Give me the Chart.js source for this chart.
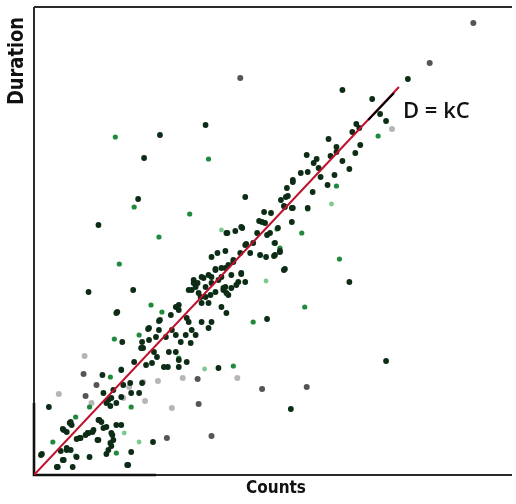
<!DOCTYPE html>
<html>
<head>
<meta charset="utf-8">
<script src="https://cdn.jsdelivr.net/npm/chart.js@4.4.1/dist/chart.umd.min.js"></script>
<style>
  html, body { margin: 0; padding: 0; background: #fff; }
  #scatter { display: block; }
</style>
</head>
<body>
<canvas id="scatter" width="516" height="504"></canvas>
<script>
// Counts vs Duration scatter, with the D = kC line

// === data: [counts, duration] ===
const darkPoints = [
  [173,350],[127,340],[111,317],[213,278],[105,276],[65,250],[195,242],[203,244],[210,247],[213,230],
  [311,385],[377,396],[341,376],[349,361],[355,354],[325,351],[328,347],[297,336],[305,328],[305,323],
  [329,330],[324,322],[299,319],[311,314],[285,316],[282,312],[318,306],[269,302],[276,303],[289,298],
  [287,307],[303,300],[261,295],[296,290],[255,287],[281,283],[249,275],[254,278],[260,267],[252,269],
  [276,267],[232,263],[239,262],[227,254],[230,253],[260,253],[235,240],[225,242],[275,320],[321,343],
  [261,293],[256,279],[253,268],[261,267],[233,252],[209,248],[194,242],[246,247],[238,242],[243,232],
  [214,231],[221,232],[218,222],[208,222],[193,224],[185,222],[179,218],[228,220],[234,218],[243,220],
  [248,224],[201,215],[196,210],[183,206],[193,207],[253,206],[161,195],[171,197],[179,198],[189,198],
  [199,200],[209,201],[163,190],[173,188],[186,195],[193,188],[206,193],[213,193],[159,185],[183,183],
  [191,185],[199,187],[168,178],[178,180],[196,180],[242,219],[248,223],[252,205],[318,193],[235,156],
  [355,114],[259,66],[100,185],[83,162],[126,154],[138,160],[143,168],[146,165],[156,185],[161,192],
  [163,188],[169,198],[176,200],[183,205],[189,207],[201,213],[209,202],[179,192],[191,187],[194,182],
  [204,190],[166,182],[173,178],[176,172],[169,172],[189,168],[194,162],[154,157],[156,153],[169,153],
  [179,153],[176,147],[159,145],[163,140],[153,140],[139,145],[126,145],[116,147],[133,138],[143,140],
  [123,138],[116,135],[109,133],[89,133],[108,127],[121,123],[124,118],[136,123],[143,123],[148,133],
  [158,132],[101,113],[119,112],[131,108],[146,108],[146,115],[154,113],[186,107],[88,105],[55,183],
  [84,163],[146,170],[165,192],[115,146],[127,155],[110,127],[69,100],[70,82],[75,75],[83,72],
  [15,68],[36,52],[66,55],[73,48],[83,50],[29,46],[46,37],[54,42],[59,43],[64,35],
  [79,40],[77,32],[88,50],[120,33],[8,21],[33,25],[56,18],[73,21],[98,23],[24,8],
  [29,15],[39,8],[94,10],[113,110],[135,108],[78,77],[80,85],[88,78],[97,92],[98,82],
  [90,90],[109,92],[106,82],[73,72],[77,69],[65,55],[68,53],[37,53],[38,50],[70,47],
  [60,45],[55,42],[52,40],[30,45],[33,43],[78,42],[43,36],[47,37],[65,35],[80,35],
  [78,29],[75,25],[33,27],[27,24],[37,25],[7,20],[43,18],[30,15],[95,10],[23,8]
];
const greenPoints = [
  [82,338],[176,316],[101,268],[157,261],[126,238],[86,211],[118,170],[221,153],[308,216],[273,168],
  [228,220],[245,246],[270,242],[242,232],[248,227],[347,339],[19,33],[42,58],[56,68],[83,22],
  [42,19],[88,106],[77,98],[81,136],[106,140],[146,117],[201,109],[98,68],[129,163],[305,289],
  [276,266]
];
const lightPoints = [[189,245],[300,271],[91,42],[106,33],[172,106],[234,194]];
const grayPoints = [
  [208,397],[443,452],[399,412],[50,101],[52,79],[165,96],[166,71],[134,37],[179,39],[230,86],
  [275,88],[63,90]
];
const paleGrayPoints = [
  [361,346],[51,119],[96,88],[110,93],[125,94],[150,97],[205,97],[25,81],[90,77],[139,67],
  [58,72],[112,74]
];

// fitted line D = kC and its black marked part
const fitLine = [[0,0],[368,388]];
const fitMark = [[337,355],[363,382]];

// axis ranges
const COUNTS_MAX = 482;
const DURATION_MAX = 468;

// === helpers ===
const toXY = pts => pts.map(p => ({ x: p[0], y: p[1] }));

function pointSet(label, pts, color, radius, order) {
  return {
    type: "scatter",
    label: label,
    data: toXY(pts),
    backgroundColor: color,
    borderWidth: 0,
    pointRadius: radius,
    pointStyle: "circle",
    order: order
  };
}

// frame + texts
const framePlugin = {
  id: "frame",
  beforeDatasetsDraw(chart) {
    const { ctx, chartArea: a } = chart;
    ctx.save();
    ctx.strokeStyle = "#2a2a2a";
    ctx.lineWidth = 2;
    ctx.beginPath();
    ctx.moveTo(a.left, a.top);
    ctx.lineTo(a.right, a.top);
    ctx.moveTo(a.left, a.top);
    ctx.lineTo(a.left, a.bottom);
    ctx.lineTo(a.right, a.bottom);
    ctx.stroke();
    // slightly heavier stroke on the lower-left part of the frame
    ctx.lineWidth = 2.6;
    ctx.strokeStyle = "#111";
    ctx.beginPath();
    ctx.moveTo(a.left, a.bottom - 72);
    ctx.lineTo(a.left, a.bottom);
    ctx.lineTo(a.left + 122, a.bottom);
    ctx.stroke();
    ctx.restore();
  },
  afterDraw(chart) {
    const { ctx, chartArea: a } = chart;
    ctx.save();
    ctx.fillStyle = "#111";
    ctx.textAlign = "center";
    ctx.textBaseline = "middle";

    ctx.font = 'bold 17px "Liberation Sans Narrow", "DejaVu Sans Condensed", sans-serif';
    ctx.fillText("Counts", (a.left + a.right) / 2 + 3, a.bottom + 14, 67);

    ctx.translate(17, 61);
    ctx.rotate(-Math.PI / 2);
    ctx.font = 'bold 22px "Liberation Sans Narrow", "DejaVu Sans Condensed", sans-serif';
    ctx.fillText("Duration", 0, 0, 88);
    ctx.restore();

    ctx.save();
    ctx.fillStyle = "#111";
    ctx.textAlign = "left";
    ctx.textBaseline = "middle";
    ctx.font = '600 22px "Open Sans", "DejaVu Sans", sans-serif';
    ctx.fillText("D = kC", 403, 112, 70);
    ctx.restore();
  }
};

const ctx = document.getElementById("scatter").getContext("2d");

new Chart(ctx, {
  type: "scatter",
  data: {
    datasets: [
      {
        type: "line",
        label: "D = kC",
        data: toXY(fitLine),
        borderColor: "#c0102c",
        borderWidth: 2,
        pointRadius: 0,
        order: 1
      },
      {
        type: "line",
        label: "mark",
        data: toXY(fitMark),
        borderColor: "#000",
        borderWidth: 2,
        pointRadius: 0,
        order: 0
      },
      pointSet("dark", darkPoints, "#0c2c16", 2.9, 2),
      pointSet("green", greenPoints, "#1f8a3e", 2.6, 3),
      pointSet("light", lightPoints, "#7cc98c", 2.4, 4),
      pointSet("gray", grayPoints, "rgba(55,55,55,0.85)", 3, 5),
      pointSet("pale", paleGrayPoints, "rgba(110,110,110,0.5)", 3, 6)
    ]
  },
  options: {
    responsive: false,
    animation: false,
    layout: { padding: { left: 34, top: 7, right: 0, bottom: 29 } },
    plugins: {
      legend: { display: false },
      tooltip: { enabled: false }
    },
    scales: {
      x: { type: "linear", display: false, min: 0, max: COUNTS_MAX },
      y: { type: "linear", display: false, min: 0, max: DURATION_MAX }
    }
  },
  plugins: [framePlugin]
});
</script>
</body>
</html>
